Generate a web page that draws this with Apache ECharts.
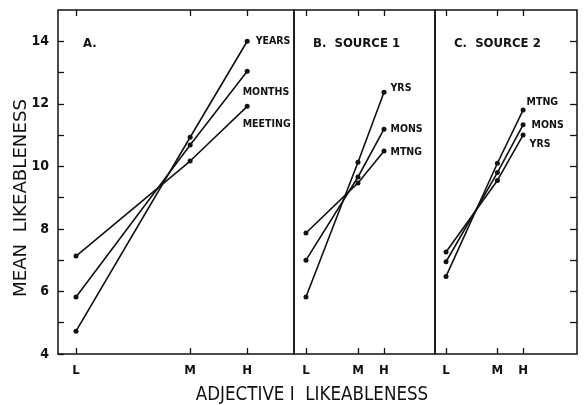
<!DOCTYPE html>
<html><head><meta charset="utf-8">
<script src="https://cdn.jsdelivr.net/npm/echarts@6/dist/echarts.min.js"></script>
<style>html,body{margin:0;padding:0;background:#fff}#c{width:585px;height:405px}</style>
</head><body><div id="c"></div>
<script>
// ---- data ----
const levelNames = ['L', 'M', 'H'];
const levelPos = [1, 3, 4];
const yTicks = [4, 5, 6, 7, 8, 9, 10, 11, 12, 13, 14];
const yLabelTicks = [4, 6, 8, 10, 12, 14];

const panelTitles = ['A.', 'B.  SOURCE 1', 'C.  SOURCE 2'];

const aNames = ['YEARS', 'MONTHS', 'MEETING'];
const aYears = [4.73, 10.93, 14.0];
const aMonths = [5.82, 10.68, 13.04];
const aMeeting = [7.13, 10.17, 11.92];

const bNames = ['YRS', 'MONS', 'MTNG'];
const bYrs = [5.82, 10.13, 12.37];
const bMons = [7.0, 9.66, 11.19];
const bMtng = [7.87, 9.47, 10.49];

const cNames = ['MTNG', 'MONS', 'YRS'];
const cMtng = [6.48, 10.1, 11.8];
const cMons = [6.95, 9.8, 11.33];
const cYrs = [7.26, 9.55, 11.0];

// ---- layout ----
const FONT = 'DejaVu Sans Condensed';
const grids = [
  {left: 58, top: 10, width: 236, height: 344, xmin: 0.684, xmax: 4.82},
  {left: 294, top: 10, width: 141, height: 344, xmin: 0.54, xmax: 5.96},
  {left: 435, top: 10, width: 142, height: 344, xmin: 0.57, xmax: 6.1}
];
const labelOffsets = [
  [[2, 0], [-11, 21], [-11, 18]],
  [[0, -4], [0, 0], [0, 1]],
  [[-3, -8], [2, 0], [0, 9]]
];
const panels = [
  {names: aNames, vals: [aYears, aMonths, aMeeting]},
  {names: bNames, vals: [bYrs, bMons, bMtng]},
  {names: cNames, vals: [cMtng, cMons, cYrs]}
];

const option = {
  animation: false,
  backgroundColor: '#fff',
  grid: grids.map(g => ({left: g.left, top: g.top, width: g.width, height: g.height,
    show: true, borderColor: '#111', borderWidth: 1.5, backgroundColor: 'transparent'})),
  title: panelTitles.map((t, i) => ({
    text: t, left: [78, 308, 449][i], top: 32,
    textStyle: {fontFamily: FONT, fontSize: 13, fontWeight: 'bold', color: '#111'}
  })),
  xAxis: [], yAxis: [], series: [],
  graphic: [
    {type: 'text', x: 312, y: 395, scaleX: 0.93,
      style: {text: 'ADJECTIVE I  LIKEABLENESS', font: '20px "' + FONT + '"', fill: '#111',
        align: 'center', verticalAlign: 'middle'}},
    {type: 'text', x: 21, y: 198, rotation: Math.PI / 2, scaleX: 1.12,
      style: {text: 'MEAN  LIKEABLENESS', font: '18px "' + FONT + '"', fill: '#111',
        align: 'center', verticalAlign: 'middle'}}
  ]
};

grids.forEach((g, i) => {
  const common = {type: 'value', gridIndex: i, min: g.xmin, max: g.xmax,
    splitLine: {show: false}, axisLine: {show: false}};
  option.xAxis.push(Object.assign({}, common, {
    position: 'bottom',
    axisTick: {show: true, inside: true, length: 6, customValues: levelPos, lineStyle: {color: '#111', width: 1.3}},
    axisLabel: {show: true, customValues: levelPos, margin: 10,
      formatter: v => levelNames[levelPos.indexOf(Math.round(v))] || '',
      fontFamily: FONT, fontSize: 13, fontWeight: 'bold', color: '#111'}
  }));
  option.xAxis.push(Object.assign({}, common, {
    position: 'top',
    axisTick: {show: true, inside: true, length: 6, customValues: levelPos, lineStyle: {color: '#111', width: 1.3}},
    axisLabel: {show: false}
  }));
  const yCommon = {type: 'value', gridIndex: i, min: 4, max: 15, interval: 1,
    splitLine: {show: false}, axisLine: {show: false}};
  option.yAxis.push(Object.assign({}, yCommon, {
    position: 'left',
    axisTick: {show: i === 0, inside: true, length: 6, customValues: yTicks, lineStyle: {color: '#111', width: 1.3}},
    axisLabel: {show: i === 0, customValues: yLabelTicks, margin: 9,
      fontFamily: FONT, fontSize: 14, fontWeight: 'bold', color: '#111'}
  }));
  if (i === 2) {
    option.yAxis.push(Object.assign({}, yCommon, {
      position: 'right',
      axisTick: {show: true, inside: true, length: 7, customValues: yTicks.slice(1), lineStyle: {color: '#111', width: 1.3}},
      axisLabel: {show: false}
    }));
  }
});

panels.forEach((p, i) => {
  p.vals.forEach((vals, k) => {
    option.series.push({
      type: 'line', xAxisIndex: i * 2, yAxisIndex: i,
      symbol: 'circle', symbolSize: 5,
      lineStyle: {color: '#111', width: 1.6}, itemStyle: {color: '#111'},
      data: vals.map((v, j) => {
        const d = {value: [levelPos[j], v]};
        if (j === vals.length - 1) {
          d.label = {show: true, position: 'right', distance: 4, offset: labelOffsets[i][k],
            formatter: p.names[k], fontFamily: FONT, fontSize: 10.5, fontWeight: 'bold', color: '#111'};
        }
        return d;
      })
    });
  });
});

const chart = echarts.init(document.getElementById('c'), null, {renderer: 'canvas'});
chart.setOption(option);
</script></body></html>
